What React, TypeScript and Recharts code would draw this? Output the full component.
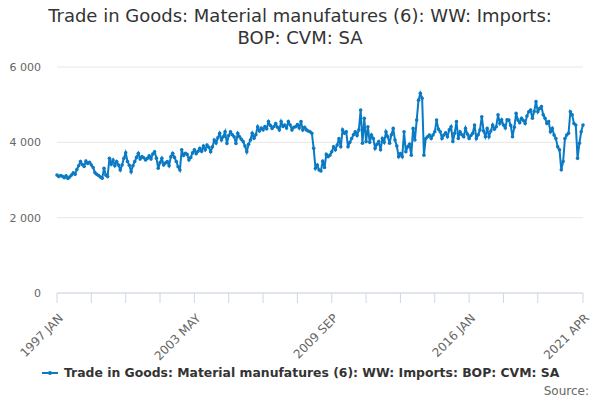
import React from 'react';
import { LineChart, Line, XAxis, YAxis, CartesianGrid } from 'recharts';

const SERIES_NAME = 'Trade in Goods: Material manufatures (6): WW: Imports: BOP: CVM: SA';
const COLOR = '#0b7ac4';

const MONTHS = ['JAN', 'FEB', 'MAR', 'APR', 'MAY', 'JUN', 'JUL', 'AUG', 'SEP', 'OCT', 'NOV', 'DEC'];
const START_YEAR = 1997;

// monthly values, 1997 JAN .. 2021 APR
const VALUES_1997_2001 = [
  3130, 3090, 3120, 3100, 3060, 3110, 3040, 3080, 3130, 3190, 3150, 3280,
  3380, 3490, 3410, 3360, 3500, 3440, 3470, 3400, 3330, 3195, 3150, 3120,
  3080, 3045, 3310, 3130, 3090, 3575, 3420, 3530, 3380, 3490, 3400, 3265,
  3400, 3575, 3725, 3490, 3390, 3220, 3380, 3490, 3600, 3710, 3560, 3620,
  3590, 3530, 3575, 3640, 3560, 3690, 3750, 3580, 3310, 3460, 3575, 3400,
];
const VALUES_2002_2006 = [
  3450, 3490, 3380, 3620, 3710, 3600, 3490, 3350, 3265, 3800, 3650, 3710,
  3680, 3530, 3600, 3720, 3800, 3700, 3760, 3840, 3760, 3900, 3800, 3930,
  3870, 3750, 3880, 4060, 3980, 4120, 4240, 4060, 4150, 4280, 3970, 4180,
  4280, 4200, 4150, 3970, 4240, 4150, 4080, 4020, 3900, 3750, 3950, 4060,
  4240, 4110, 4200, 4415, 4300, 4380, 4330, 4420, 4360, 4550, 4450, 4370,
];
const VALUES_2007_2011 = [
  4420, 4500, 4400, 4330, 4550, 4420, 4460, 4380, 4550, 4460, 4330, 4400,
  4415, 4470, 4380, 4550, 4330, 4400, 4330, 4300, 4280, 4240, 3840, 3310,
  3400, 3265, 3240, 3500, 3330, 3680, 3620, 3660, 3750, 3880, 3800, 3930,
  4100, 3880, 4330, 4240, 4280, 3880, 4000, 4100, 4200, 4280, 4180, 4330,
  4860, 3975, 4640, 4020, 4415, 4000, 4195, 4100, 3840, 3950, 4020, 3800,
];
const VALUES_2012_2016 = [
  4100, 4000, 4280, 4150, 3975, 4200, 4370, 4060, 3900, 3620, 3700, 3620,
  4280, 3750, 3880, 3950, 3660, 4370, 4060, 4590, 5120, 5300, 5170, 3660,
  4100, 4150, 4195, 4100, 4195, 4280, 4590, 4350, 4280, 4100, 4195, 4250,
  4150, 4330, 4415, 4020, 4240, 4550, 4100, 4280, 4200, 4150, 4370, 4220,
  4100, 4180, 4240, 4460, 4100, 4200, 4330, 4680, 4300, 4150, 4370, 4150,
];
const VALUES_2017_2021 = [
  4300, 4460, 4350, 4415, 4730, 4500, 4600, 4460, 4380, 4600, 4590, 4450,
  4150, 4400, 4770, 4590, 4520, 4640, 4580, 4500, 4700, 4810, 4860, 4640,
  4820, 5080, 4810, 4900, 4950, 4730, 4640, 4500, 4550, 4280, 4370, 4195,
  4100, 3880, 3800, 3270, 3490, 4100, 4195, 4240, 4810, 4730, 4500, 4460,
  3575, 3975, 4280, 4460,
];

const VALUES = [
  ...VALUES_1997_2001,
  ...VALUES_2002_2006,
  ...VALUES_2007_2011,
  ...VALUES_2012_2016,
  ...VALUES_2017_2021,
];

const DATES = VALUES.map((_, i) => `${START_YEAR + Math.floor(i / 12)} ${MONTHS[i % 12]}`);

const LABELS = ['1997 JAN', '2003 MAY', '2009 SEP', '2016 JAN', '2021 APR'];
const TICK_DATES = [
  '1997 JAN', '1998 AUG', '2000 MAR', '2001 OCT', '2003 MAY', '2004 DEC', '2006 JUL', '2008 FEB',
  '2009 SEP', '2011 APR', '2012 NOV', '2014 JUN', '2016 JAN', '2017 AUG', '2019 MAR', '2021 APR',
];
const Y_TICKS = [0, 2000, 4000, 6000];

const data = DATES.map((date, i) => ({ date, value: VALUES[i] }));

const fmt = (v: number) => v.toLocaleString('en-US').replace(/,/g, ' ');

const XTick = (props: any) => {
  const { x, y, payload } = props;
  if (!LABELS.includes(payload.value)) return null;
  return (
    <g transform={`translate(${x + 4},${y + 11})`}>
      <text x={0} y={0} dy="0.35em" textAnchor="end" transform="rotate(-45)" fill="#666" fontSize={12}>
        {payload.value}
      </text>
    </g>
  );
};

const App: React.FC = () => {
  const font = '"DejaVu Sans", "Noto Sans", sans-serif';
  return (
    <div style={{ position: 'absolute', left: 0, top: 0, width: 600, height: 400, background: '#fff', fontFamily: font }}>
      <div style={{ position: 'absolute', top: 5, left: 0, width: 600, textAlign: 'center', fontSize: 18, lineHeight: '22px', color: '#333' }}>
        Trade in Goods: Material manufatures (6): WW: Imports:<br />BOP: CVM: SA
      </div>
      <div style={{ position: 'absolute', top: 0, left: 0 }}>
        <LineChart width={600} height={400} data={data} margin={{ top: 67, right: 17, left: 7, bottom: 0 }}>
          <CartesianGrid vertical={false} stroke="#e6e6e6" />
          <XAxis
            dataKey="date"
            ticks={TICK_DATES}
            interval={0}
            height={107}
            tick={<XTick />}
            axisLine={{ stroke: '#ccd6eb' }}
            tickLine={{ stroke: '#ccd6eb' }}
            tickSize={10}
            padding={{ left: 0, right: 0 }}
          />
          <YAxis
            domain={[0, 6000]}
            ticks={Y_TICKS}
            width={50}
            axisLine={false}
            tickLine={false}
            tickFormatter={fmt}
            tick={{ fill: '#666', fontSize: 11 }}
            tickMargin={10}
          />
          <Line
            type="linear"
            dataKey="value"
            stroke={COLOR}
            strokeWidth={2}
            dot={{ r: 1.8, fill: COLOR, stroke: COLOR, strokeWidth: 0 }}
            isAnimationActive={false}
          />
        </LineChart>
      </div>
      <div style={{ position: 'absolute', top: 365, left: 42, display: 'flex', alignItems: 'center', fontSize: 12.4, fontWeight: 'bold', color: '#333' }}>
        <svg width={18} height={10} style={{ marginRight: 4 }}>
          <line x1={0} y1={5} x2={16} y2={5} stroke={COLOR} strokeWidth={2} />
          <circle cx={8} cy={5} r={2} fill={COLOR} />
        </svg>
        {SERIES_NAME}
      </div>
      <div style={{ position: 'absolute', top: 384, right: 11, fontSize: 12, color: '#666' }}>Source:</div>
    </div>
  );
};

export default App;
